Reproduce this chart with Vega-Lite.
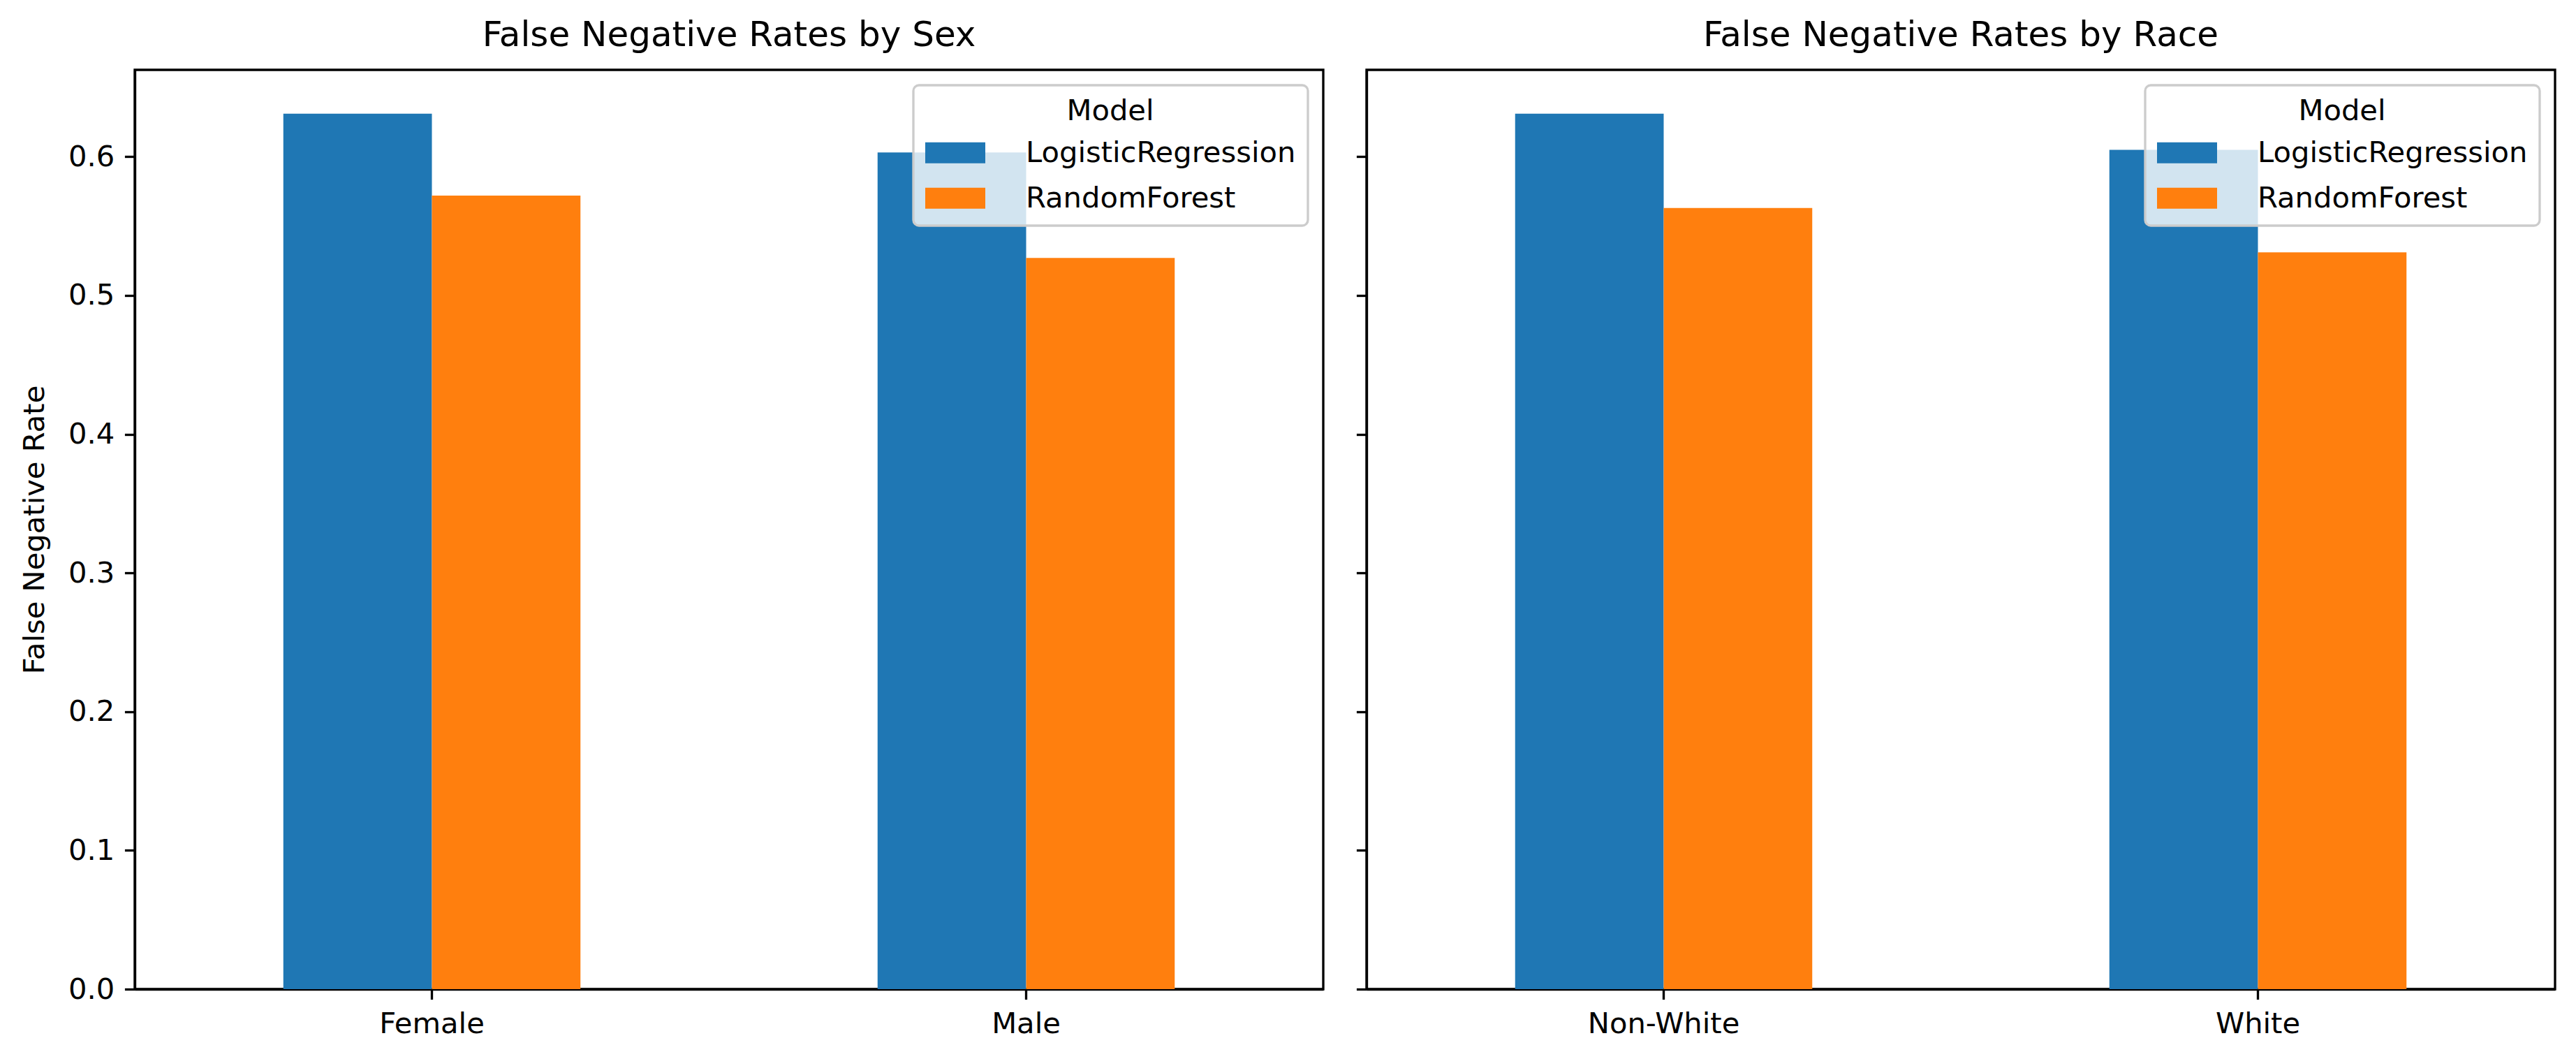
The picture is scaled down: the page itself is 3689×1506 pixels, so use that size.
{
  "$schema": "https://vega.github.io/schema/vega-lite/v6.json",
  "background": "white",
  "padding": {"left": 27, "top": 24, "right": 30, "bottom": 10},
  "config": {
    "font": "DejaVu Sans",
    "view": {"stroke": "black", "strokeWidth": 3.33},
    "axis": {
      "domainColor": "black", "domainWidth": 3.33,
      "tickColor": "black", "tickWidth": 3.33, "tickSize": 14.6,
      "labelPadding": 14.6, "labelFontSize": 41.67, "labelColor": "black", "labelFont": "DejaVu Sans", "labelLimit": 0,
      "titleFont": "DejaVu Sans", "titleFontSize": 41.67, "titleFontWeight": "normal", "titleColor": "black",
      "grid": false
    },
    "title": {"font": "DejaVu Sans", "fontSize": 50, "fontWeight": "normal", "color": "black", "offset": 24, "baseline": "alphabetic"},
    "legend": {"strokeWidth": 3.33, "labelLimit": 0}
  },
  "data": {
    "values": [
      {"attribute": "Sex", "group": "Female", "Model": "LogisticRegression", "fnr": 0.631},
      {"attribute": "Sex", "group": "Female", "Model": "RandomForest", "fnr": 0.572},
      {"attribute": "Sex", "group": "Male", "Model": "LogisticRegression", "fnr": 0.603},
      {"attribute": "Sex", "group": "Male", "Model": "RandomForest", "fnr": 0.527},
      {"attribute": "Race", "group": "Non-White", "Model": "LogisticRegression", "fnr": 0.631},
      {"attribute": "Race", "group": "Non-White", "Model": "RandomForest", "fnr": 0.563},
      {"attribute": "Race", "group": "White", "Model": "LogisticRegression", "fnr": 0.605},
      {"attribute": "Race", "group": "White", "Model": "RandomForest", "fnr": 0.531}
    ]
  },
  "bounds": "flush",
  "spacing": 62,
  "resolve": {"legend": {"color": "independent"}, "scale": {"x": "independent"}},
  "hconcat": [
    {
      "title": "False Negative Rates by Sex",
      "width": 1702,
      "height": 1316,
      "transform": [{"filter": "datum.attribute === 'Sex'"}],
      "mark": {"type": "bar"},
      "encoding": {
        "x": {"field": "group", "type": "nominal", "sort": ["Female", "Male"],
              "scale": {"paddingInner": 0.5, "paddingOuter": 0.25},
              "axis": {"title": null, "labelAngle": 0, "bandPosition": 0.5}},
        "xOffset": {"field": "Model", "type": "nominal", "sort": ["LogisticRegression", "RandomForest"],
                    "scale": {"paddingInner": 0, "paddingOuter": 0}},
        "y": {"field": "fnr", "type": "quantitative",
              "scale": {"domain": [0, 0.6626], "nice": false},
              "axis": {"title": "False Negative Rate", "values": [0, 0.1, 0.2, 0.3, 0.4, 0.5, 0.6], "format": ".1f", "titlePadding": 26}},
        "color": {"field": "Model", "type": "nominal",
                  "scale": {"domain": ["LogisticRegression", "RandomForest"], "range": ["#1f77b4", "#ff7f0e"]},
                  "legend": {"orient": "top-right", "offset": 22, "title": "Model", "titleAnchor": "middle",
                             "titleFontSize": 41.67, "titleFontWeight": "normal", "titleColor": "black", "titleFont": "DejaVu Sans",
                             "labelFontSize": 41.67, "labelColor": "black", "labelFont": "DejaVu Sans", "labelLimit": 0,
                             "symbolType": "M-2.064,-0.72H2.064V0.72H-2.064Z", "symbolSize": 1736,
                             "symbolStrokeWidth": 0, "symbolOpacity": 1,
                             "padding": 17, "titlePadding": 17, "rowPadding": 22, "labelOffset": 80, "symbolOffset": 22,
                             "fillColor": "rgba(255,255,255,0.8)", "strokeColor": "#cccccc", "cornerRadius": 8}}
      }
    },
    {
      "title": "False Negative Rates by Race",
      "width": 1702,
      "height": 1316,
      "transform": [{"filter": "datum.attribute === 'Race'"}],
      "mark": {"type": "bar"},
      "encoding": {
        "x": {"field": "group", "type": "nominal", "sort": ["Non-White", "White"],
              "scale": {"paddingInner": 0.5, "paddingOuter": 0.25},
              "axis": {"title": null, "labelAngle": 0, "bandPosition": 0.5}},
        "xOffset": {"field": "Model", "type": "nominal", "sort": ["LogisticRegression", "RandomForest"],
                    "scale": {"paddingInner": 0, "paddingOuter": 0}},
        "y": {"field": "fnr", "type": "quantitative",
              "scale": {"domain": [0, 0.6626], "nice": false},
              "axis": {"title": null, "labels": false, "values": [0, 0.1, 0.2, 0.3, 0.4, 0.5, 0.6]}},
        "color": {"field": "Model", "type": "nominal",
                  "scale": {"domain": ["LogisticRegression", "RandomForest"], "range": ["#1f77b4", "#ff7f0e"]},
                  "legend": {"orient": "top-right", "offset": 22, "title": "Model", "titleAnchor": "middle",
                             "titleFontSize": 41.67, "titleFontWeight": "normal", "titleColor": "black", "titleFont": "DejaVu Sans",
                             "labelFontSize": 41.67, "labelColor": "black", "labelFont": "DejaVu Sans", "labelLimit": 0,
                             "symbolType": "M-2.064,-0.72H2.064V0.72H-2.064Z", "symbolSize": 1736,
                             "symbolStrokeWidth": 0, "symbolOpacity": 1,
                             "padding": 17, "titlePadding": 17, "rowPadding": 22, "labelOffset": 80, "symbolOffset": 22,
                             "fillColor": "rgba(255,255,255,0.8)", "strokeColor": "#cccccc", "cornerRadius": 8}}
      }
    }
  ]
}
